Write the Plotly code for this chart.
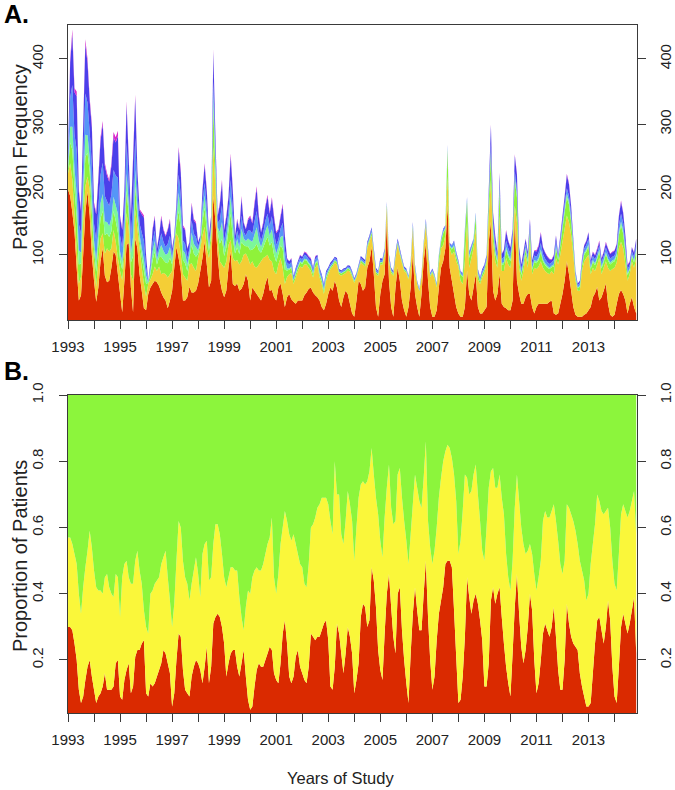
import plotly.graph_objects as go

# Monthly time points, Jan 1993 .. Nov 2014
N_MONTHS = 263
months = [1993 + i / 12 for i in range(N_MONTHS)]

# ---------------- Panel A: pathogen counts per month (stacked layers) ----------------
red_A = [200,190,165,135,80,30,38,100,165,197,
         160,100,60,28,50,90,110,68,58,60,
         80,105,100,70,41,12,60,115,118,50,
         12,125,110,70,45,18,15,40,50,55,
         60,58,52,42,35,30,18,30,45,80,
         112,95,75,30,30,35,51,42,42,45,
         56,75,95,120,85,50,60,190,150,100,
         62,45,35,45,80,105,55,52,56,45,
         48,55,70,60,30,50,45,40,35,30,
         40,55,66,45,46,35,30,50,56,40,
         20,35,40,32,28,25,30,30,30,38,
         42,48,50,42,38,35,30,20,15,25,
         40,50,45,60,50,30,20,35,45,40,
         25,10,5,30,60,55,45,50,80,90,
         112,70,20,5,40,60,70,150,60,20,
         5,50,81,60,30,15,5,20,50,102,
         40,20,5,40,90,117,60,20,5,5,
         15,50,80,90,110,175,80,60,40,20,
         10,5,5,20,76,40,30,50,70,20,
         10,10,15,20,120,150,45,30,40,71,
         25,20,18,15,15,30,160,60,40,25,
         25,35,40,40,20,10,20,25,25,25,
         25,25,28,30,10,8,10,25,40,60,
         90,70,45,20,8,5,5,5,8,10,
         15,20,35,41,51,30,35,45,56,25,
         8,5,8,25,40,46,40,30,10,25,
         35,20,10]
yellow_A = [25,50,50,29,30,26,28,50,40,23,
            40,30,30,23,40,35,23,34,52,45,
            30,33,20,25,34,49,40,49,22,20,
            48,44,30,40,35,37,21,15,12,15,
            22,17,30,28,37,40,47,40,30,30,
            21,30,25,40,35,25,34,45,38,30,
            39,35,35,23,25,45,60,75,50,25,
            28,40,45,45,35,18,40,38,36,40,
            42,45,32,35,55,40,37,40,50,60,
            55,42,34,47,44,40,40,35,39,40,
            35,31,30,40,27,40,45,52,50,47,
            43,32,25,23,42,50,35,35,25,35,
            30,28,37,28,35,40,48,35,27,36,
            49,56,52,35,17,33,40,32,30,30,
            18,30,50,63,45,25,30,22,30,52,
            63,45,34,40,57,60,67,42,32,38,
            36,35,39,25,22,28,40,46,67,59,
            35,35,30,25,20,45,30,40,65,70,
            72,55,50,70,74,40,65,60,70,42,
            45,55,57,65,40,65,75,60,40,89,
            50,55,77,70,65,80,15,90,40,35,
            50,65,40,80,50,70,58,57,65,55,
            50,47,42,45,60,87,75,75,80,80,
            70,80,85,80,52,40,40,70,82,85,
            85,50,45,34,34,65,35,35,34,55,
            67,73,72,63,70,74,70,55,50,45,
            55,60,85]
lime_A = [6,32,46,38,48,29,21,30,45,36,
          28,34,18,23,26,31,34,28,23,22,
          26,29,32,39,17,16,20,34,22,18,
          38,35,18,12,17,21,19,2,8,21,
          23,10,14,27,20,18,22,25,10,6,
          14,42,39,22,22,15,10,28,22,22,
          7,6,21,29,27,10,12,60,24,10,
          27,39,18,21,22,40,31,12,19,16,
          30,15,11,18,22,18,29,37,22,13,
          16,23,27,22,29,25,19,16,19,29,
          22,10,7,8,5,5,5,6,6,7,
          6,6,7,5,6,5,5,5,5,5,
          4,3,3,3,3,3,3,3,3,3,
          3,3,2,2,3,3,3,3,3,3,
          4,3,3,2,3,3,3,4,3,3,
          2,3,3,3,3,2,2,2,3,3,
          3,2,1,2,3,3,3,2,2,2,
          2,10,10,18,10,40,3,8,8,7,
          4,10,11,40,30,15,12,9,18,8,
          4,5,5,6,20,40,15,12,8,40,
          9,11,13,12,10,10,40,38,10,9,
          10,8,9,15,7,9,9,10,14,10,
          9,8,8,6,12,15,7,14,20,25,
          28,27,20,10,6,4,6,8,10,10,
          13,8,9,9,9,10,9,9,11,11,
          10,10,10,11,20,25,22,18,9,7,
          8,8,11]
mint_A = [5,24,35,29,36,22,16,23,34,27,
          21,26,14,17,20,23,26,21,17,17,
          20,22,24,29,13,12,15,26,17,14,
          29,26,14,9,13,16,13,1,6,14,
          16,7,10,18,14,12,15,17,7,4,
          9,28,26,15,15,10,7,19,15,15,
          5,4,14,19,18,7,8,20,16,7,
          18,26,12,14,15,26,21,8,13,11,
          20,10,8,12,15,12,20,25,15,9,
          11,16,18,15,20,17,13,11,13,20,
          15,3,2,2,1,2,2,2,2,2,
          2,2,2,2,2,2,2,2,2,2,
          1,1,1,1,1,1,1,1,1,1,
          1,1,1,1,1,1,1,1,1,1,
          1,1,1,1,1,1,1,1,1,1,
          1,1,1,1,1,1,1,1,1,1,
          1,0,0,1,1,1,1,1,1,1,
          1,1,1,2,1,3,1,2,2,2,
          1,1,1,3,3,3,2,1,2,2,
          1,1,1,1,3,5,5,4,3,4,
          3,3,4,4,3,3,5,5,3,3,
          3,3,3,3,2,3,3,3,4,3,
          3,3,2,2,3,3,2,3,4,5,
          6,5,4,3,2,1,2,2,3,3,
          3,2,3,3,2,3,3,3,3,3,
          3,3,3,3,5,6,5,4,3,2,
          2,3,3]
lblue_A = [8,45,64,53,67,40,29,42,63,50,
           39,48,25,32,36,43,48,39,32,31,
           36,41,45,55,24,22,28,48,31,25,
           53,49,25,17,24,29,13,1,6,14,
           16,7,10,18,14,12,15,17,7,4,
           9,28,26,15,15,10,7,19,15,15,
           5,4,14,19,18,7,8,20,16,7,
           18,26,12,14,15,26,21,8,13,11,
           20,10,8,12,15,12,20,25,15,9,
           11,16,18,15,20,17,13,11,13,20,
           15,9,6,7,4,5,5,5,5,6,
           5,5,6,5,5,5,5,5,5,5,
           3,3,3,3,3,2,2,3,2,2,
           3,3,2,2,2,3,3,3,3,3,
           4,3,3,2,3,3,3,2,3,2,
           2,3,3,3,2,2,2,2,2,3,
           3,2,2,2,2,3,3,2,2,2,
           2,3,3,3,3,3,2,4,5,4,
           3,3,4,5,3,5,4,4,4,4,
           4,4,4,4,7,10,10,10,6,8,
           6,8,10,9,8,7,8,8,8,6,
           7,6,6,7,6,7,7,8,10,8,
           7,6,6,5,7,8,4,6,7,8,
           8,8,8,6,4,3,4,5,6,7,
           8,5,6,6,6,6,6,6,7,7,
           6,6,6,7,10,12,11,10,6,5,
           5,6,7]
blue_A = [10,54,78,65,82,49,35,51,76,61,
          48,57,30,39,44,53,59,46,39,37,
          44,50,51,64,28,27,34,58,37,30,
          65,61,30,20,28,36,17,1,7,19,
          21,10,13,24,18,16,21,23,10,5,
          14,38,35,21,21,14,10,24,21,21,
          7,5,19,27,24,10,11,46,22,10,
          24,35,16,19,21,36,29,11,16,15,
          27,14,10,16,21,16,26,34,21,13,
          15,21,26,19,26,23,18,15,18,26,
          21,6,5,5,3,3,3,4,4,4,
          4,4,4,3,4,3,3,3,3,3,
          3,3,3,2,3,2,2,2,2,2,
          2,2,2,2,2,3,3,3,3,3,
          3,3,3,2,3,2,3,2,3,2,
          2,3,3,3,2,2,2,1,2,3,
          2,1,1,1,2,3,3,1,2,1,
          1,1,1,2,1,2,2,1,2,2,
          2,1,1,2,2,2,2,1,1,2,
          2,3,3,4,10,28,13,12,7,12,
          8,10,14,11,10,9,24,22,10,7,
          9,7,6,9,6,7,8,10,15,10,
          9,8,7,4,7,8,3,6,8,11,
          20,18,12,5,3,3,3,4,5,6,
          10,6,6,6,6,6,6,6,7,8,
          7,7,7,7,14,18,16,12,6,5,
          6,6,8]
magenta_A = [1,5,7,6,7,4,3,4,7,6,
             4,5,3,3,4,5,5,4,4,3,
             4,8,8,8,3,2,3,5,3,3,
             5,5,3,2,3,3,2,0,1,2,
             2,1,1,3,2,2,2,3,1,1,
             1,4,4,2,2,1,1,3,2,2,
             1,1,2,3,3,1,1,4,2,1,
             3,4,2,2,2,4,3,1,2,2,
             3,1,1,2,2,2,3,4,2,1,
             2,2,3,2,3,3,2,2,2,3,
             2,1,0,1,0,0,0,1,0,1,
             1,1,1,0,1,0,0,0,0,0,
             0,0,0,0,0,0,0,0,0,0,
             0,0,0,0,0,0,0,0,0,0,
             0,0,0,0,0,0,0,0,0,0,
             0,0,0,0,0,0,0,0,0,0,
             0,0,0,0,0,0,0,0,0,0,
             0,0,0,0,0,0,0,0,0,0,
             0,0,0,0,0,0,0,0,0,0,
             0,0,0,0,0,2,2,2,1,2,
             1,1,2,1,1,1,2,2,1,1,
             1,1,1,1,1,1,2,2,2,1,
             1,1,1,1,1,1,1,1,1,1,
             2,2,1,1,0,0,0,1,1,1,
             1,1,1,1,2,2,1,1,2,1,
             1,1,1,1,1,2,1,1,1,1,
             1,1,1]

# ---------------- Panel B: cumulative proportions ----------------
prop_red = [.30,.30,.29,.25,.20,.11,.07,.09,.14,.18,
            .20,.15,.11,.07,.09,.10,.12,.16,.11,.11,
            .11,.12,.19,.20,.09,.08,.14,.17,.19,.10,
            .12,.21,.23,.23,.25,.26,.10,.09,.13,.12,
            .13,.15,.17,.19,.23,.22,.19,.16,.06,.10,
            .20,.28,.27,.17,.11,.10,.09,.15,.18,.20,
            .19,.17,.13,.18,.24,.13,.18,.31,.33,.34,
            .33,.30,.25,.15,.19,.22,.23,.23,.18,.15,
            .19,.23,.15,.08,.05,.06,.12,.17,.19,.18,
            .18,.20,.22,.24,.23,.16,.14,.13,.19,.28,
            .32,.25,.15,.13,.15,.21,.23,.18,.16,.14,
            .13,.18,.28,.27,.26,.27,.27,.29,.31,.32,
            .26,.12,.11,.18,.31,.28,.22,.16,.22,.30,
            .27,.22,.10,.14,.19,.33,.37,.36,.30,.32,
            .48,.44,.36,.23,.17,.14,.28,.40,.46,.36,
            .27,.22,.40,.42,.29,.20,.13,.07,.22,.34,
            .42,.35,.29,.29,.40,.50,.33,.20,.11,.15,
            .26,.34,.38,.42,.49,.50,.50,.48,.35,.21,
            .07,.08,.15,.27,.45,.39,.34,.38,.40,.37,
            .32,.26,.12,.12,.19,.38,.42,.37,.40,.42,
            .33,.25,.18,.13,.09,.22,.36,.46,.34,.24,
            .19,.23,.30,.40,.35,.20,.10,.13,.20,.28,
            .31,.29,.27,.30,.36,.27,.17,.11,.11,.20,
            .37,.31,.27,.25,.24,.23,.16,.12,.09,.06,
            .06,.07,.16,.25,.32,.33,.29,.25,.30,.38,
            .32,.18,.09,.07,.18,.30,.34,.31,.28,.31,
            .35,.39,.22]
prop_red_yellow = [.57,.57,.55,.52,.49,.40,.34,.42,.48,.53,
                   .59,.54,.47,.42,.41,.41,.40,.45,.46,.42,
                   .40,.39,.46,.45,.33,.45,.49,.50,.45,.43,
                   .43,.50,.53,.47,.43,.35,.30,.28,.40,.41,
                   .43,.44,.45,.49,.51,.53,.45,.38,.30,.37,
                   .50,.62,.60,.50,.45,.43,.38,.43,.47,.51,
                   .46,.39,.52,.55,.56,.44,.45,.55,.61,.61,
                   .58,.52,.45,.42,.45,.48,.48,.47,.47,.39,
                   .33,.29,.36,.41,.40,.45,.47,.48,.47,.47,
                   .49,.52,.55,.57,.63,.45,.40,.46,.55,.60,
                   .65,.62,.58,.56,.58,.55,.52,.49,.48,.43,
                   .42,.49,.60,.61,.63,.66,.67,.69,.69,.69,
                   .67,.62,.58,.80,.70,.70,.58,.55,.62,.71,
                   .67,.62,.50,.60,.69,.73,.74,.73,.74,.77,
                   .84,.76,.69,.64,.56,.51,.63,.72,.79,.66,
                   .61,.62,.76,.78,.69,.62,.56,.49,.58,.67,
                   .76,.72,.68,.66,.75,.86,.62,.54,.49,.53,
                   .60,.69,.75,.80,.83,.85,.84,.81,.76,.68,
                   .52,.56,.65,.76,.75,.70,.71,.76,.79,.70,
                   .62,.53,.50,.60,.72,.77,.78,.72,.72,.76,
                   .69,.64,.52,.45,.41,.50,.66,.76,.68,.60,
                   .55,.52,.53,.55,.52,.46,.41,.45,.50,.62,
                   .65,.63,.63,.65,.67,.62,.56,.49,.46,.50,
                   .67,.66,.64,.62,.59,.55,.50,.47,.44,.38,
                   .40,.49,.55,.61,.70,.68,.65,.64,.65,.66,
                   .60,.50,.43,.41,.52,.64,.67,.65,.63,.65,
                   .68,.71,.58]

year_ticks = list(range(1993, 2015))
year_labels = [str(y) if (y - 1993) % 2 == 0 else "" for y in year_ticks]
freq_ticks = [100, 200, 300, 400]
prop_ticks = [0.2, 0.4, 0.6, 0.8, 1.0]
prop_labels = ["0.2", "0.4", "0.6", "0.8", "1.0"]

for arr in [red_A, yellow_A, lime_A, mint_A, lblue_A, blue_A, magenta_A, prop_red, prop_red_yellow]:
    assert len(arr) == N_MONTHS, len(arr)

colors_A = ["#DA2A00", "#F4CE36", "#8FF23A", "#7CF79A", "#5596F7", "#4B3FEA", "#D82ACB"]
layers_A = [red_A, yellow_A, lime_A, mint_A, lblue_A, blue_A, magenta_A]

fig = go.Figure()
for vals, col in zip(layers_A, colors_A):
    fig.add_trace(go.Scatter(x=months, y=vals, stackgroup="A", mode="none",
                             fillcolor=col, xaxis="x", yaxis="y",
                             showlegend=False, hoverinfo="skip"))

yellow_B = [ry - r for r, ry in zip(prop_red, prop_red_yellow)]
green_B = [1 - ry for ry in prop_red_yellow]
for vals, col in zip([prop_red, yellow_B, green_B], ["#DA2A00", "#FAF73A", "#8CF53C"]):
    fig.add_trace(go.Scatter(x=months, y=vals, stackgroup="B", mode="none",
                             fillcolor=col, xaxis="x2", yaxis="y2",
                             showlegend=False, hoverinfo="skip"))

# invisible traces for right-hand axes
fig.add_trace(go.Scatter(x=[months[0]], y=[freq_ticks[0]], xaxis="x", yaxis="y3",
                         mode="markers", marker=dict(opacity=0), showlegend=False, hoverinfo="skip"))
fig.add_trace(go.Scatter(x=[months[0]], y=[prop_ticks[0]], xaxis="x2", yaxis="y4",
                         mode="markers", marker=dict(opacity=0), showlegend=False, hoverinfo="skip"))

FONT = "Liberation Sans, Arial, sans-serif"
tickfont = dict(family=FONT, size=15, color="#222")
LC = "#3a3a3a"
x_range = [1993, 1993 + (N_MONTHS - 1) / 12 + 0.03]
A_dom = [0.5712, 1.0]
B_dom = [0.0, 0.4622]

xcommon = dict(range=x_range, tickmode="array", tickvals=year_ticks, ticktext=year_labels,
               ticks="outside", ticklen=8, tickcolor=LC, tickwidth=1,
               showline=True, linecolor=LC, linewidth=1, mirror=True,
               showgrid=False, zeroline=False, tickfont=tickfont, ticklabelstandoff=5,
               automargin=False)
ycommonA = dict(range=[0, 452], tickmode="array", tickvals=freq_ticks,
                ticks="outside", ticklen=8, tickcolor=LC, tickwidth=1,
                showgrid=False, zeroline=False, tickfont=tickfont, tickangle=-90,
                automargin=False)
ycommonB = dict(range=[0.04, 1.0], tickmode="array", tickvals=prop_ticks, ticktext=prop_labels,
                ticks="outside", ticklen=8, tickcolor=LC, tickwidth=1,
                showgrid=False, zeroline=False, tickfont=tickfont, tickangle=-90,
                automargin=False)

fig.update_layout(
    width=675, height=790,
    margin=dict(l=68, r=38, t=25, b=77),
    paper_bgcolor="white", plot_bgcolor="white",
    showlegend=False,
    xaxis=dict(domain=[0, 1], anchor="y", **xcommon),
    yaxis=dict(domain=A_dom, anchor="x", side="left", ticklabelstandoff=10,
               showline=True, linecolor=LC, linewidth=1, mirror=True, **ycommonA),
    yaxis3=dict(overlaying="y", anchor="x", side="right", ticklabelstandoff=7,
                showline=False, **ycommonA),
    xaxis2=dict(domain=[0, 1], anchor="y2", **xcommon),
    yaxis2=dict(domain=B_dom, anchor="x2", side="left", ticklabelstandoff=10,
                showline=True, linecolor=LC, linewidth=1, mirror=True, **ycommonB),
    yaxis4=dict(overlaying="y2", anchor="x2", side="right", ticklabelstandoff=7,
                showline=False, **ycommonB),
    font=dict(family=FONT, color="#222"),
)

W = 675 - 68 - 38
H = 790 - 25 - 77
def px(xp):
    return (xp - 68) / W
def py(yp):
    return (790 - 77 - yp) / H

annots = [
    dict(text="<b>A.</b>", x=px(2), y=py(14), xanchor="left", yanchor="middle", font=dict(size=25, family=FONT, color="#000")),
    dict(text="<b>B.</b>", x=px(2), y=py(371), xanchor="left", yanchor="middle", font=dict(size=25, family=FONT, color="#000")),
    dict(text="Pathogen Frequency", x=px(20), y=py(157), textangle=-90, xanchor="center", yanchor="middle", font=dict(size=20, family=FONT, color="#222")),
    dict(text="Proportion of Patients", x=px(20), y=py(556), textangle=-90, xanchor="center", yanchor="middle", font=dict(size=20, family=FONT, color="#222")),
    dict(text="Years of Study", x=px(340), y=py(778), xanchor="center", yanchor="middle", font=dict(size=16.5, family=FONT, color="#222")),
]
for a in annots:
    a.update(xref="paper", yref="paper", showarrow=False)
fig.update_layout(annotations=annots)

fig.write_html("out.html", config={"displayModeBar": False},
               post_script="document.body.style.margin='0';document.body.style.padding='0';document.body.style.overflow='hidden';")
